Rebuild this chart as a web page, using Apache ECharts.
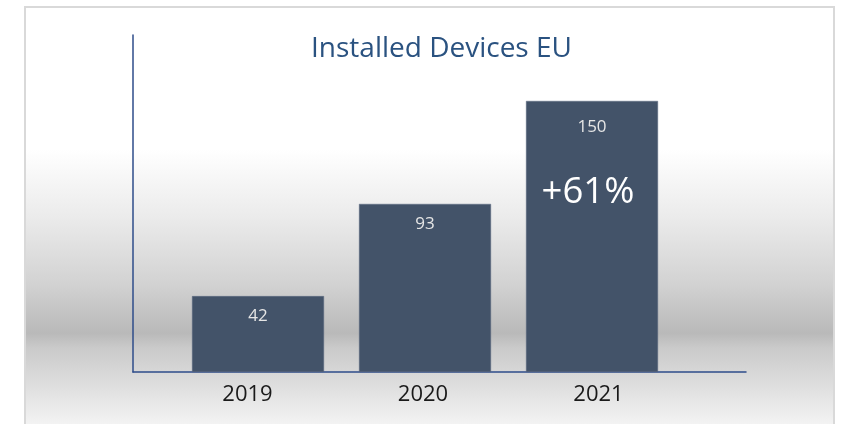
<!DOCTYPE html>
<html>
<head>
<meta charset="utf-8">
<script src="https://cdn.jsdelivr.net/npm/echarts@6/dist/echarts.min.js"></script>
<style>
  html, body { margin: 0; padding: 0; background: #fff; }
  #main { width: 846px; height: 424px; }
</style>
</head>
<body>
<div id="main"></div>
<script>
var years = ['2019', '2020', '2021'];
var devices = [42, 93, 150];

// growth of the last year over the one before
var growth = Math.round((devices[2] - devices[1]) / devices[1] * 100);

var chart = echarts.init(document.getElementById('main'));

var barData = devices.map(function (v, i) {
    if (i === devices.length - 1) {
        return {
            value: v,
            label: {
                formatter: '{a|{c}}\n{b|+' + growth + '%}',
                rich: {
                    a: { color: '#e6e6e6', fontSize: 17, lineHeight: 30, fontFamily: 'Open Sans' },
                    b: { color: '#ffffff', fontSize: 36.5, lineHeight: 102, fontFamily: 'Open Sans', padding: [0, 8, 0, 0] }
                },
                distance: 11
            }
        };
    }
    return v;
});

var hiddenVal = {
    type: 'value',
    min: 0, max: 1,
    show: false,
    splitLine: { show: false }
};

option = {
    backgroundColor: '#ffffff',
    graphic: [{
        type: 'rect',
        z: -10,
        shape: { x: 25, y: 7, width: 809, height: 420 },
        style: {
            fill: new echarts.graphic.LinearGradient(0, 0, 0, 1, [
                { offset: 0, color: '#ffffff' },
                { offset: 0.34, color: '#ffffff' },
                { offset: 0.5, color: '#ebebeb' },
                { offset: 0.66, color: '#d2d2d2' },
                { offset: 0.775, color: '#b9b9b9' },
                { offset: 0.81, color: '#cacaca' },
                { offset: 1, color: '#f5f5f5' }
            ]),
            stroke: '#d9d9d9',
            lineWidth: 2
        }
    }],
    title: {
        text: 'Installed Devices EU',
        left: 306,
        top: 30,
        textStyle: {
            color: '#2a5280',
            fontSize: 28,
            fontWeight: 'normal',
            fontFamily: 'Open Sans'
        }
    },
    grid: [
        { left: 133, right: 100, top: 35, bottom: 52 },
        { left: 174.5, width: 501, top: 35, bottom: 52 },
        { left: 159.75, width: 526.5, top: 35, bottom: 52 }
    ],
    xAxis: [{
        // axis lines
        type: 'value',
        gridIndex: 0,
        min: 0, max: 1,
        axisLine: { show: true, lineStyle: { color: '#2e4c8a', width: 1.5 } },
        axisTick: { show: false },
        axisLabel: { show: false },
        splitLine: { show: false }
    }, {
        // bars
        type: 'category',
        gridIndex: 1,
        data: years,
        axisLine: { show: false },
        axisTick: { show: false },
        axisLabel: { show: false }
    }, {
        // year labels
        type: 'category',
        gridIndex: 2,
        data: years,
        axisLine: { show: false },
        axisTick: { show: false },
        axisLabel: {
            color: '#1a1a1a',
            fontSize: 22,
            margin: 12,
            fontFamily: 'Open Sans'
        }
    }],
    yAxis: [{
        type: 'value',
        gridIndex: 0,
        min: 0, max: 1,
        axisLine: { show: true, lineStyle: { color: '#2e4c8a', width: 1.5 } },
        axisTick: { show: false },
        axisLabel: { show: false },
        splitLine: { show: false }
    }, {
        type: 'value',
        gridIndex: 1,
        min: 0,
        max: 186.5,
        show: false,
        splitLine: { show: false }
    }, Object.assign({ gridIndex: 2 }, hiddenVal)],
    series: [{
        type: 'bar',
        xAxisIndex: 1,
        yAxisIndex: 1,
        data: barData,
        barWidth: 132,
        itemStyle: {
            color: '#435369',
            borderColor: '#5c6b80',
            borderWidth: 0.5
        },
        label: {
            show: true,
            position: 'insideTop',
            distance: 12,
            color: '#e6e6e6',
            fontSize: 17,
            fontFamily: 'Open Sans'
        },
        z: 2
    }]
};

chart.setOption(option);
</script>
</body>
</html>
